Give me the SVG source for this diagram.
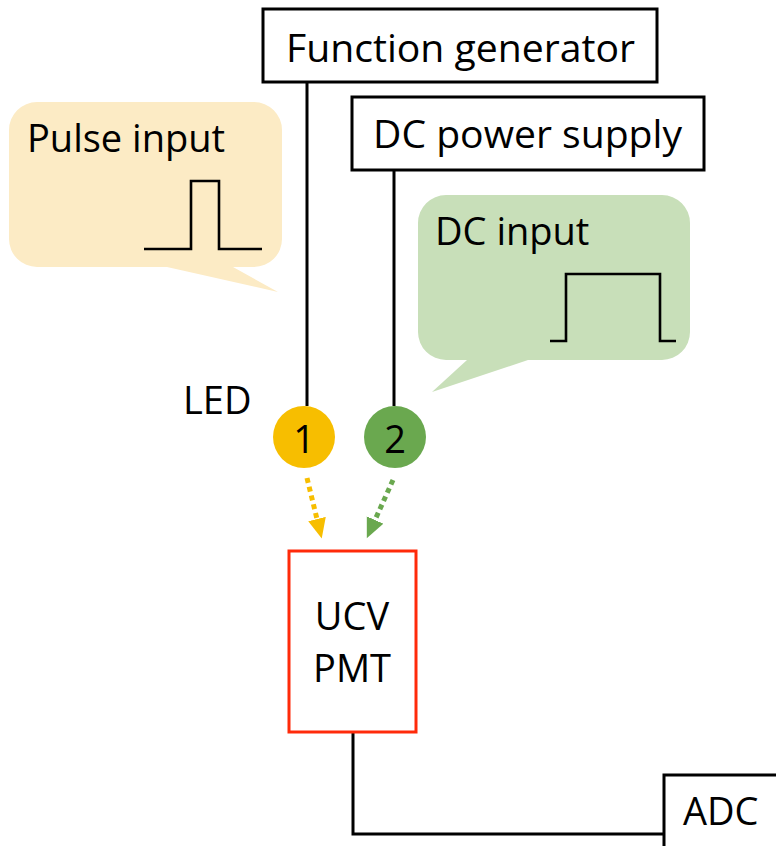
<svg xmlns="http://www.w3.org/2000/svg" width="776" height="846" viewBox="0 0 776 846">
<style>
.t{font-family:"Open Sans","Liberation Sans",sans-serif;font-size:38px;fill:#000}
.box{fill:#fff;stroke:#000;stroke-width:3}
.wire{fill:none;stroke:#000;stroke-width:3}
.wave{fill:none;stroke:#000;stroke-width:2.6}
.dot{fill:none;stroke-width:5;stroke-dasharray:5 4}
</style>
<defs>
<marker id="ay" markerUnits="userSpaceOnUse" markerWidth="22" markerHeight="20" refX="0" refY="9" orient="auto"><path d="M0,0 L20,9 L0,18 z" fill="#F7BE00"/></marker>
<marker id="ag" markerUnits="userSpaceOnUse" markerWidth="22" markerHeight="20" refX="0" refY="9" orient="auto"><path d="M0,0 L20,9 L0,18 z" fill="#6AA84F"/></marker>
</defs>
<rect width="776" height="846" fill="#fff"/>
<g id="pulse-bubble">
<path d="M37,102 H254 A28,28 0 0 1 282,130 V239 A28,28 0 0 1 254,267 H233 L278,292 L167,267 H37 A28,28 0 0 1 9,239 V130 A28,28 0 0 1 37,102 Z" fill="#FCEBC5"/>
<text class="t" x="27" y="152">Pulse input</text>
<path class="wave" d="M144,249 H191 V181 H219 V249 H262"/>
</g>
<g id="dc-bubble">
<path d="M446,195 H662 A28,28 0 0 1 690,223 V332 A28,28 0 0 1 662,360 H528 L432,392 L467,360 H446 A28,28 0 0 1 418,332 V223 A28,28 0 0 1 446,195 Z" fill="#C8DFB9"/>
<text class="t" x="435" y="245">DC input</text>
<path class="wave" d="M550,341 H566 V274 H660 V341 H676"/>
</g>
<g id="connectors">
<line class="wire" x1="307" y1="82" x2="307" y2="406"/>
<line class="wire" x1="394" y1="170" x2="394" y2="406"/>
<line class="dot" stroke="#F7BE00" x1="307" y1="478" x2="317" y2="519" marker-end="url(#ay)"/>
<line class="dot" stroke="#6AA84F" x1="393" y1="480" x2="375" y2="520" marker-end="url(#ag)"/>
<path class="wire" d="M353,732 V834 H664"/>
</g>
<g id="function-generator">
<rect class="box" x="263" y="9" width="394" height="73"/>
<text class="t" x="286" y="62" textLength="349" lengthAdjust="spacingAndGlyphs">Function generator</text>
</g>
<g id="dc-power-supply">
<rect class="box" x="352" y="97" width="352" height="73"/>
<text class="t" x="373" y="148" textLength="309" lengthAdjust="spacingAndGlyphs">DC power supply</text>
</g>
<g id="led-label">
<text class="t" x="183" y="414" font-size="40">LED</text>
</g>
<g id="led1">
<circle cx="304" cy="437" r="31" fill="#F7BE00"/>
<text class="t" x="304" y="453" text-anchor="middle">1</text>
</g>
<g id="led2">
<circle cx="395" cy="437" r="31" fill="#6AA84F"/>
<text class="t" x="395" y="453" text-anchor="middle">2</text>
</g>
<g id="ucv-pmt">
<rect x="289" y="551" width="127" height="181" fill="#fff" stroke="#FF2A0A" stroke-width="3"/>
<text class="t" x="352" y="630" text-anchor="middle">UCV</text>
<text class="t" x="352" y="682" text-anchor="middle">PMT</text>
</g>
<g id="adc">
<rect class="box" x="664" y="775" width="140" height="100"/>
<text class="t" x="683" y="825">ADC</text>
</g>
</svg>
